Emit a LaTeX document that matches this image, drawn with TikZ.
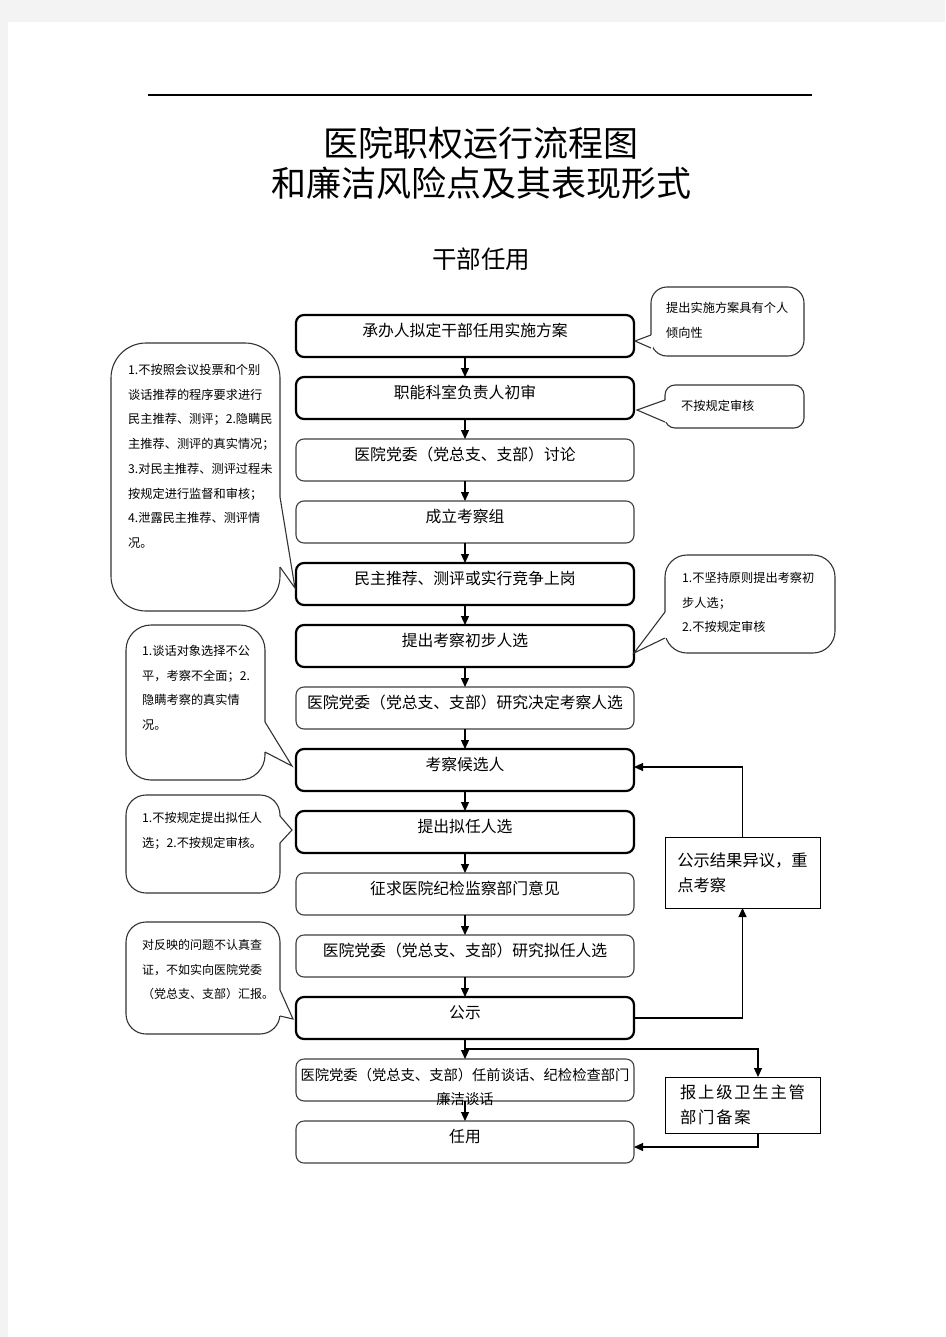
\documentclass[tikz,border=0pt]{standalone}
\usepackage{fontspec}
\setmainfont{Noto Sans CJK SC}
\newfontfamily\cjkwide[LetterSpace=11]{Noto Sans CJK SC}
\usetikzlibrary{positioning, arrows.meta, calc}
\definecolor{pagegray}{RGB}{243,243,243}
\tikzset{
  stepbox/.style={
    rectangle,
    rounded corners=8pt,
    draw=black!75, line width=1.1pt,
    fill=white,
    minimum width=338pt,
    text height=21pt, text depth=21pt,
    inner ysep=0pt, inner xsep=2pt,
    outer sep=0pt,
    font=\fontsize{15.8}{24}\selectfont
  },
  keybox/.style={
    stepbox,
    draw=black, line width=2.2pt
  },
  sidebox/.style={
    rectangle,
    draw=black, line width=1pt,
    fill=white,
    minimum width=155pt,
    align=left,
    outer sep=0pt,
    font=\fontsize{16.3}{25}\selectfont
  },
  balloon/.style={
    rectangle,
    draw=black!80, line width=1.1pt,
    fill=white
  },
  risk/.style={
    anchor=north west,
    inner sep=0pt,
    align=left,
    font=\fontsize{12.2}{24.7}\selectfont
  },
  arrow/.style={
    draw=black,
    line width=1.1pt,
    -{Triangle[length=9pt,width=8pt]}
  }
}
% spout of a balloon: side x, y1, y2, tip x, tip y
\newcommand*\spout[5]{%
  \fill[white] (#1-2,#2) rectangle (#1+2,#3);
  \filldraw[draw=black!80, line width=1.1pt, fill=white] (#1,#2) -- (#4,#5) -- (#1,#3);
}

\begin{document}
\begin{tikzpicture}[x=1pt, y=-1pt]
\useasboundingbox (0,0) rectangle (945,1337);
\fill[pagegray] (0,0) rectangle (945,1337);
\fill[white] (8,22) rectangle (945,1337);

% heading
\draw[line width=1.3pt] (148,95) -- (812,95);
\node[font=\fontsize{35}{40}\selectfont, align=center] (title) at (481,163)
  {医院职权运行流程图\\和廉洁风险点及其表现形式};
\node[font=\fontsize{24.5}{30}\selectfont] (subtitle) at (481,259) {干部任用};

% steps
\node[keybox] (p1) at (465,336) {承办人拟定干部任用实施方案};
\node[keybox, below=20pt of p1] (p2) {职能科室负责人初审};
\node[stepbox, below=20pt of p2] (p3) {医院党委（党总支、支部）讨论};
\node[stepbox, below=20pt of p3] (p4) {成立考察组};
\node[keybox, below=20pt of p4] (p5) {民主推荐、测评或实行竞争上岗};
\node[keybox, below=20pt of p5] (p6) {提出考察初步人选};
\node[stepbox, below=20pt of p6] (p7) {医院党委（党总支、支部）研究决定考察人选};
\node[keybox, below=20pt of p7] (p8) {考察候选人};
\node[keybox, below=20pt of p8] (p9) {提出拟任人选};
\node[stepbox, below=20pt of p9] (p10) {征求医院纪检监察部门意见};
\node[stepbox, below=20pt of p10] (p11) {医院党委（党总支、支部）研究拟任人选};
\node[keybox, below=20pt of p11] (p12) {公示};
\node[stepbox, below=20pt of p12, font=\fontsize{14.3}{24}\selectfont] (p13)
  {\begin{tabular}[t]{@{}c@{}}医院党委（党总支、支部）任前谈话、纪检检查部门\\廉洁谈话\end{tabular}};
\node[stepbox, below=20pt of p13] (p14) {任用};

% side boxes
\node[sidebox, minimum height=71pt] (pubbox) at (742.5,872.5) {公示结果异议，重\\点考察};
\node[sidebox, minimum height=56pt, font={\cjkwide\fontsize{16.3}{25}\selectfont}] (filebox) at (742.5,1105)
  {报上级卫生主管\\部门备案};

% edges
\draw [arrow] (p1) -- (p2);
\draw [arrow] (p2) -- (p3);
\draw [arrow] (p3) -- (p4);
\draw [arrow] (p4) -- (p5);
\draw [arrow] (p5) -- (p6);
\draw [arrow] (p6) -- (p7);
\draw [arrow] (p7) -- (p8);
\draw [arrow] (p8) -- (p9);
\draw [arrow] (p9) -- (p10);
\draw [arrow] (p10) -- (p11);
\draw [arrow] (p11) -- (p12);
\draw [arrow] (p12) -- (p13);
\draw [arrow] (p13) -- (p14);

\draw [arrow] (p12.east) -| (pubbox.south);
\draw [arrow] (pubbox.north) |- ([yshift=3pt]p8.east);
\coordinate (h12) at ($(p12.south)!0.5!(p13.north)$);
\draw [arrow] (h12) -| ([xshift=15.5pt]filebox.north);
\draw [arrow] ([xshift=15.5pt]filebox.south) |- ([yshift=-5pt]p14.east);

% risk balloons, left
\node[balloon, rounded corners=35pt, minimum width=169pt, minimum height=268pt] (b1) at (195.5,477) {};
\node[balloon, rounded corners=25pt, minimum width=139pt, minimum height=155pt] (b2) at (195.5,702.5) {};
\node[balloon, rounded corners=20pt, minimum width=154pt, minimum height=98pt] (b3) at (203,844) {};
\node[balloon, rounded corners=20pt, minimum width=154pt, minimum height=112pt] (b4) at (203,978) {};
% risk balloons, right
\node[balloon, rounded corners=16pt, minimum width=153pt, minimum height=69pt] (b5) at (727.5,321.5) {};
\node[balloon, rounded corners=10pt, minimum width=139pt, minimum height=43pt] (b6) at (734.5,406.5) {};
\node[balloon, rounded corners=22pt, minimum width=170pt, minimum height=98pt] (b7) at (750,604) {};

\spout{280}{497}{567}{295}{588}
\spout{265}{722}{752}{292}{766}
\spout{280}{816}{843}{292}{830}
\spout{280}{990}{1016}{293}{1019}
\spout{651}{335}{348}{635}{341}
\spout{665}{400}{422}{637}{410}
\spout{665}{612}{638}{634}{653}

\node[risk] (r1) at (128,364)
  {1.不按照会议投票和个别\\谈话推荐的程序要求进行\\民主推荐、测评；2.隐瞒民\\主推荐、测评的真实情况；\\3.对民主推荐、测评过程未\\按规定进行监督和审核；\\4.泄露民主推荐、测评情\\况。};
\node[risk] (r2) at (142,645) {1.谈话对象选择不公\\平，考察不全面；2.\\隐瞒考察的真实情\\况。};
\node[risk] (r3) at (142,812) {1.不按规定提出拟任人\\选；2.不按规定审核。};
\node[risk, font=\fontsize{12}{24.7}\selectfont] (r4) at (142,939)
  {对反映的问题不认真查\\证，不如实向医院党委\\（党总支、支部）汇报。};
\node[risk] (r5) at (666,302) {提出实施方案具有个人\\倾向性};
\node[risk] (r6) at (681,400) {不按规定审核};
\node[risk, font=\fontsize{12.2}{24.5}\selectfont] (r7) at (682,572)
  {1.不坚持原则提出考察初\\步人选；\\2.不按规定审核};
\end{tikzpicture}
\end{document}
